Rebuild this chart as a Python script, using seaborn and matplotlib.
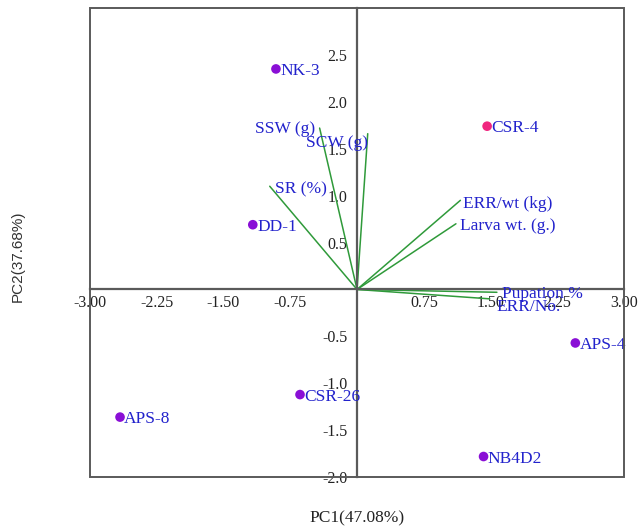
import matplotlib
matplotlib.use('Agg')
import matplotlib.pyplot as plt
from matplotlib.patches import Rectangle
from matplotlib.ticker import FormatStrFormatter
import pandas as pd
import seaborn as sns

# genotype scores
genotypes = ['NK-3', 'CSR-4', 'DD-1', 'APS-4', 'CSR-26', 'APS-8', 'NB4D2']
pc1_scores = [-0.91, 1.46, -1.17, 2.45, -0.64, -2.66, 1.42]
pc2_scores = [2.35, 1.74, 0.69, -0.57, -1.12, -1.36, -1.78]
groups = ['a', 'b', 'a', 'a', 'a', 'a', 'a']

# trait loadings (vectors)
traits = ['SSW (g)', 'SCW (g)', 'SR (%)', 'ERR/wt (kg)', 'Larva wt. (g.)',
          'Pupation %', 'ERR/No.']
pc1_load = [-0.42, 0.12, -0.98, 1.16, 1.11, 1.57, 1.49]
pc2_load = [1.72, 1.66, 1.10, 0.95, 0.70, -0.03, -0.10]

xticks = [-3.0, -2.25, -1.5, -0.75, 0.75, 1.5, 2.25, 3.0]
yticks = [-2.0, -1.5, -1.0, -0.5, 0.5, 1.0, 1.5, 2.0, 2.5]

scores = pd.DataFrame({'PC1': pc1_scores, 'PC2': pc2_scores,
                       'Genotype': genotypes, 'Group': groups})

sns.set_style('white')
plt.rcParams['font.family'] = ['Liberation Serif', 'DejaVu Serif']

fig = plt.figure(figsize=(6.41, 5.29), dpi=100)
ax = fig.add_axes([0.140, 0.098, 0.834, 0.887])

text_blue = '#2222cc'
line_green = '#2f9a3a'
axis_grey = '#5a5a5a'

# loading vectors
for name, vx, vy in zip(traits, pc1_load, pc2_load):
    ax.plot([0, vx], [0, vy], color=line_green, linewidth=1.1, zorder=2)

# trait labels: (ha, dx, dy) offsets in points
label_pos = {
    'SSW (g)': ('right', -3.5, -0.7),
    'SCW (g)': ('right', 0.5, -6.5),
    'SR (%)': ('left', 3.5, -2.0),
    'ERR/wt (kg)': ('left', 2.0, -3.0),
    'Larva wt. (g.)': ('left', 3.0, -1.5),
    'Pupation %': ('left', 3.6, -1.5),
    'ERR/No.': ('left', 5.0, -5.8),
}
for name, vx, vy in zip(traits, pc1_load, pc2_load):
    ha, dx, dy = label_pos[name]
    ax.annotate(name, (vx, vy), xytext=(dx, dy), textcoords='offset points',
                ha=ha, va='center', color=text_blue, fontsize=12.5, zorder=4)

# genotype points
sns.scatterplot(data=scores, x='PC1', y='PC2', hue='Group',
                palette={'a': '#8a0fd6', 'b': '#f0267f'},
                s=48, edgecolor='none', legend=False, ax=ax, zorder=3)
for name, px, py in zip(genotypes, pc1_scores, pc2_scores):
    ax.annotate(name, (px, py), xytext=(3, -1.5), textcoords='offset points',
                ha='left', va='center', color=text_blue, fontsize=12.5, zorder=4)

ax.set_xlim(-3.0, 3.0)
ax.set_ylim(-2.0, 3.0)

# axes through the origin
for side in ['top', 'right']:
    ax.spines[side].set_visible(False)
for side in ['left', 'bottom']:
    ax.spines[side].set_position(('data', 0))
    ax.spines[side].set_color(axis_grey)
    ax.spines[side].set_linewidth(1.6)
ax.add_patch(Rectangle((0, 0), 1, 1, transform=ax.transAxes, fill=False,
                       edgecolor=axis_grey, linewidth=1.4, clip_on=False, zorder=5))

ax.set_xticks(xticks)
ax.set_yticks(yticks)
ax.xaxis.set_major_formatter(FormatStrFormatter('%.2f'))
ax.yaxis.set_major_formatter(FormatStrFormatter('%.1f'))
ax.tick_params(axis='x', direction='in', length=6, width=1.2, color=axis_grey,
               labelsize=11.5, pad=4, labelcolor='#222222')
ax.tick_params(axis='y', direction='out', length=5, width=1.2, color=axis_grey,
               labelsize=11.5, pad=2, labelcolor='#222222')

ax.set_xlabel('PC1(47.08%)', fontsize=12.5, color='#222222')
ax.set_ylabel('PC2(37.68%)', fontsize=11, color='#333333',
              family=['Liberation Sans', 'DejaVu Sans'])
ax.xaxis.set_label_coords(0.5, -0.07)
ax.yaxis.set_label_coords(-0.122, 0.47)

fig.savefig('out.png', dpi=100)
